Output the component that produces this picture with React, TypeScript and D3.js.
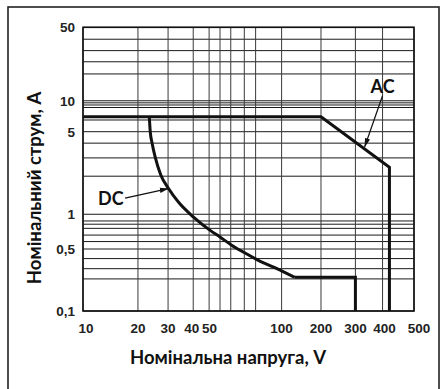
import { useMemo } from "react";
import * as d3 from "d3";

// labelled ticks and where the (hand-drawn) axes put them, as fractions of the plot
const xTicks = [10, 20, 30, 40, 50, 100, 200, 300, 400, 500];
const xTickFrac = [0, 0.166, 0.257, 0.333, 0.381, 0.6, 0.719, 0.823, 0.905, 1];
const xTickShift = [3, 0, 0, -1.5, 0.5, 0, 0, 0, 2, 5];
const xMinor = [55.5, 61.5, 70, 78];

const yTicks = [0.1, 0.5, 1, 5, 10, 50];
const yTickFrac = [0, 0.2185, 0.341, 0.632, 0.741, 1];
const yTickLabels = ["0,1", "0,5", "1", "5", "10", "50"];
const yMinor = [0.23, 0.3, 0.39, 0.58, 0.66, 0.755, 0.82, 0.875, 2.1, 3, 4, 6.5, 8.6, 9.1, 9.55, 18, 23.5, 30, 38.5];

// [voltage, current]
const acCurve: [number, number][] = [
  [10, 7],
  [200, 7],
  [420, 2.5],
  [420, 0.1],
];
const dcCurve: [number, number][] = [
  [23.3, 7],
  [23.6, 5],
  [24.2, 4],
  [25.3, 3],
  [27.2, 2.15],
  [30.1, 1.66],
  [34, 1.25],
  [40, 0.95],
  [50.5, 0.725],
  [55.5, 0.635],
  [62, 0.54],
  [70.5, 0.45],
  [79, 0.38],
  [100, 0.283],
  [126, 0.24],
];
const dcTail: [number, number][] = [
  [126, 0.24],
  [300, 0.24],
  [300, 0.1],
];

// annotations: label centre, arrow start, arrow tip
const acNote = { label: [400, 13.8] as [number, number], from: [400, 11.2] as [number, number], to: [331, 3.72] as [number, number] };
const dcNote = { label: [14.2, 1.37] as [number, number], from: [17, 1.37] as [number, number], to: [30.1, 1.65] as [number, number] };

const W = 443;
const H = 389;
const m = { left: 83, right: 414, top: 27.3, bottom: 311 };

export default function App() {
  const x = useMemo(
    () =>
      d3
        .scaleLog()
        .domain(xTicks)
        .range(xTickFrac.map((f) => m.left + f * (m.right - m.left))),
    [],
  );
  const y = useMemo(
    () =>
      d3
        .scaleLog()
        .domain(yTicks)
        .range(yTickFrac.map((f) => m.bottom - f * (m.bottom - m.top))),
    [],
  );

  const line = d3
    .line<[number, number]>()
    .x((d) => x(d[0]))
    .y((d) => y(d[1]));
  const dcPath = d3
    .line<[number, number]>()
    .x((d) => x(d[0]))
    .y((d) => y(d[1]))
    .curve(d3.curveMonotoneX);

  const tickFont = "'Liberation Sans', Arial, sans-serif";
  const labelFont = "Lato, 'Open Sans', sans-serif";

  return (
    <svg
      width={W}
      height={H}
      style={{ position: "absolute", left: 0, top: 0, background: "#fff" }}
    >
      <defs>
        <marker id="ah" viewBox="0 0 12 8" refX="11.5" refY="4" markerWidth="9" markerHeight="6" orient="auto" markerUnits="userSpaceOnUse">
          <path d="M0,0.5 L12,4 L0,7.5 Z" fill="#111" />
        </marker>
      </defs>
      <rect x={8} y={7} width={431} height={400} fill="none" stroke="#222" strokeWidth={1.6} />

      {/* grid */}
      {[...yTicks, ...yMinor].map((v, i) => (
        <line key={"h" + i} x1={m.left} x2={m.right} y1={y(v)} y2={y(v)} stroke="#1a1a1a" strokeWidth={1} />
      ))}
      {[...xTicks, ...xMinor].map((v, i) => (
        <line key={"v" + i} x1={x(v)} x2={x(v)} y1={m.top} y2={m.bottom} stroke="#3a3a3a" strokeWidth={1} />
      ))}
      <rect x={m.left} y={m.top} width={m.right - m.left} height={m.bottom - m.top} fill="none" stroke="#111" strokeWidth={1.6} />

      {/* curves */}
      <path d={line(acCurve) ?? ""} fill="none" stroke="#111" strokeWidth={3} strokeLinejoin="miter" />
      <path d={dcPath(dcCurve) ?? ""} fill="none" stroke="#111" strokeWidth={3} />
      <path d={line(dcTail) ?? ""} fill="none" stroke="#111" strokeWidth={3} strokeLinejoin="miter" />

      {/* ticks */}
      {xTicks.map((v, i) => (
        <text key={"xt" + v} x={x(v) + xTickShift[i]} y={333} textAnchor="middle" fontFamily={tickFont} fontWeight="bold" fontSize={13.5} fill="#222">
          {v}
        </text>
      ))}
      {yTicks.map((v, i) => (
        <text key={"yt" + v} x={75} y={y(v)} dy="0.36em" textAnchor="end" fontFamily={tickFont} fontWeight="bold" fontSize={13.5} fill="#222">
          {yTickLabels[i]}
        </text>
      ))}

      {/* axis titles */}
      <text x={228} y={364} textAnchor="middle" fontFamily={labelFont} fontWeight="bold" fontSize={18.5} fill="#111">
        Номінальна напруга, V
      </text>
      <text transform="translate(41,188) rotate(-90)" textAnchor="middle" fontFamily={labelFont} fontWeight="bold" fontSize={18.5} fill="#111">
        Номінальний струм, А
      </text>

      {/* annotations */}
      <text x={x(acNote.label[0])} y={y(acNote.label[1])} dy="0.36em" textAnchor="middle" fontFamily={labelFont} fontWeight="bold" fontSize={18} fill="#111">
        AC
      </text>
      <line x1={x(acNote.from[0])} y1={y(acNote.from[1])} x2={x(acNote.to[0])} y2={y(acNote.to[1])} stroke="#111" strokeWidth={1.3} markerEnd="url(#ah)" />
      <text x={x(dcNote.label[0])} y={y(dcNote.label[1])} dy="0.36em" textAnchor="middle" fontFamily={labelFont} fontWeight="bold" fontSize={18} fill="#111">
        DC
      </text>
      <line x1={x(dcNote.from[0])} y1={y(dcNote.from[1])} x2={x(dcNote.to[0])} y2={y(dcNote.to[1])} stroke="#111" strokeWidth={1.3} markerEnd="url(#ah)" />
    </svg>
  );
}
